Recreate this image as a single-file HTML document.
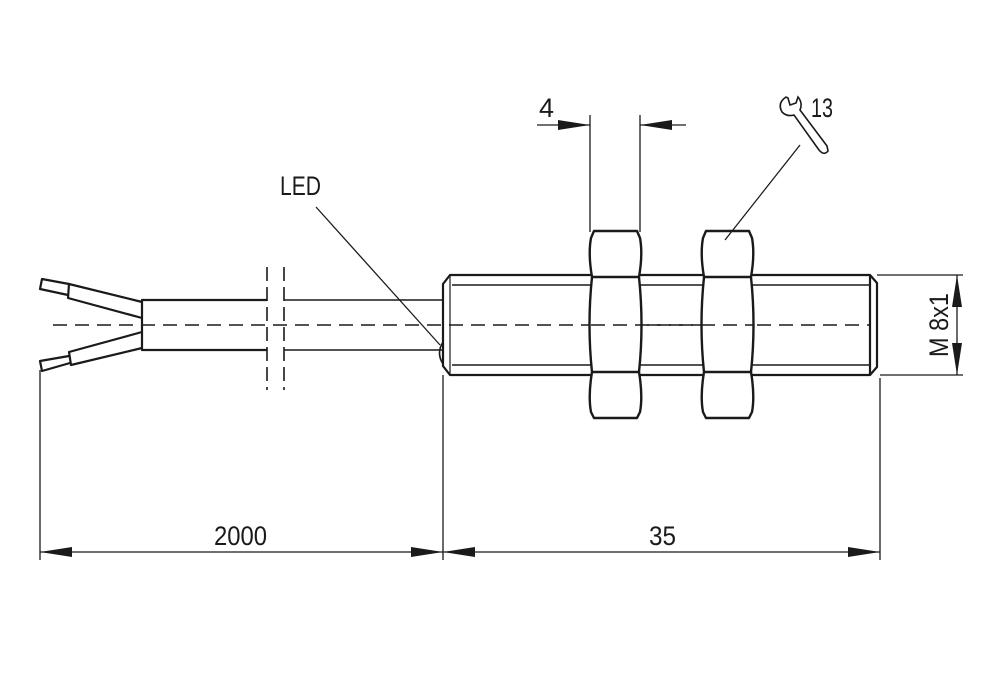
<!DOCTYPE html>
<html><head><meta charset="utf-8"><style>html,body{margin:0;padding:0;background:#fff}svg{display:block}</style></head>
<body>
<svg width="1000" height="693" viewBox="0 0 1000 693" xmlns="http://www.w3.org/2000/svg" font-family="Liberation Sans, sans-serif" fill="none" stroke="#1a1a1a">
<!-- centerline -->
<line x1="53" y1="325" x2="870" y2="325" stroke-width="1.5" stroke-dasharray="14,8"/>
<!-- wires -->
<g stroke-width="2.2" stroke-linejoin="round">
<path d="M142 302 L69 284 L68 298 L142 318"/>
<path d="M69 284 L42 279 L40 289 L68 295"/>
<path d="M142 332 L69 352 L71 365 L142 348"/>
<path d="M69 356 L40 361 L42 371 L70 363"/>
<path d="M267 300 L142 300 L142 350 L267 350"/>
<path d="M284 300 L443 300 M284 350 L443 350" stroke-width="1.6"/>
</g>
<line x1="267" y1="267" x2="267" y2="390" stroke-width="1.6" stroke-dasharray="14,6"/>
<line x1="284" y1="267" x2="284" y2="390" stroke-width="1.6" stroke-dasharray="14,6"/>
<!-- body -->
<g stroke-width="2.2" stroke-linejoin="round">
<path d="M443 284 L450 275 L870 275 L877 283 L877 367 L870 375 L450 375 L443 366 Z"/>
<line x1="870" y1="275" x2="870" y2="375"/>
<line x1="450" y1="275" x2="450" y2="375" stroke-width="1.2"/>
<path d="M443 342 Q436 353 443 364" stroke-width="1.6"/>
</g>
<line x1="452" y1="285" x2="870" y2="285" stroke-width="1.4"/>
<line x1="452" y1="365" x2="870" y2="365" stroke-width="1.4"/>
<!-- nuts -->
<g stroke-width="2.4" fill="#fff" stroke-linejoin="round">
<path d="M594 231 L637 231 L640 238 Q643 254 639 277 Q644 325 639 372 Q643 396 640 412 L637 418 L594 418 L591 412 Q588 396 592 372 Q587 325 592 277 Q588 254 591 238 Z"/>
<path d="M592 277 L639 277 M592 372 L639 372"/>
<path d="M706 231 L749 231 L752 238 Q755 254 751 277 Q756 325 751 372 Q755 396 752 412 L749 418 L706 418 L703 412 Q700 396 704 372 Q699 325 704 277 Q700 254 703 238 Z"/>
<path d="M704 277 L751 277 M704 372 L751 372"/>
</g>
<line x1="591" y1="325" x2="753" y2="325" stroke-width="1.5" stroke-dasharray="14,8"/>
<!-- dim 4 -->
<g stroke-width="1.3">
<line x1="590" y1="115" x2="590" y2="232"/>
<line x1="640" y1="115" x2="640" y2="232"/>
<line x1="537" y1="125" x2="590" y2="125"/>
<line x1="640" y1="125" x2="686" y2="125"/>
</g>
<path d="M558 120 L590 125 L558 130 Z M672 120 L640 125 L672 130 Z" fill="#1a1a1a" stroke="none"/>
<text x="539" y="117" font-size="27" fill="#1a1a1a" stroke="none" textLength="15" lengthAdjust="spacingAndGlyphs">4</text>
<!-- wrench 13 -->
<path d="M786 97 Q777 103 782 112 Q787 117 794 115 L819 150 Q824 156 828 151 L827 146 L800 110 Q803 103 798 97 L796 103 L790 105 L788 98 Z" stroke-width="1.6"/>
<text x="811" y="117" font-size="27" fill="#1a1a1a" stroke="none" textLength="22" lengthAdjust="spacingAndGlyphs">13</text>
<line x1="800" y1="145" x2="725" y2="240" stroke-width="1.3"/>
<!-- LED -->
<text x="280" y="195" font-size="27" fill="#1a1a1a" stroke="none" textLength="41" lengthAdjust="spacingAndGlyphs">LED</text>
<line x1="316" y1="207" x2="440" y2="345" stroke-width="1.3"/>
<!-- M8x1 -->
<g stroke-width="1.3">
<line x1="877" y1="275" x2="963" y2="275"/>
<line x1="880" y1="375" x2="963" y2="375"/>
<line x1="957" y1="275" x2="957" y2="375"/>
</g>
<path d="M952 307 L957 275 L962 307 Z M952 343 L957 375 L962 343 Z" fill="#1a1a1a" stroke="none"/>
<text transform="translate(948,357) rotate(-90)" font-size="27" fill="#1a1a1a" stroke="none" textLength="64" lengthAdjust="spacingAndGlyphs">M 8x1</text>
<!-- bottom dims -->
<g stroke-width="1.3">
<line x1="40" y1="370" x2="40" y2="560"/>
<line x1="443" y1="375" x2="443" y2="560"/>
<line x1="880" y1="378" x2="880" y2="560"/>
<line x1="40" y1="552" x2="880" y2="552"/>
</g>
<path d="M72 547 L40 552 L72 557 Z M411 547 L443 552 L411 557 Z M475 547 L443 552 L475 557 Z M848 547 L880 552 L848 557 Z" fill="#1a1a1a" stroke="none"/>
<text x="214" y="545" font-size="27" fill="#1a1a1a" stroke="none" textLength="53" lengthAdjust="spacingAndGlyphs">2000</text>
<text x="649" y="545" font-size="27" fill="#1a1a1a" stroke="none" textLength="27" lengthAdjust="spacingAndGlyphs">35</text>
</svg>
</body></html>
